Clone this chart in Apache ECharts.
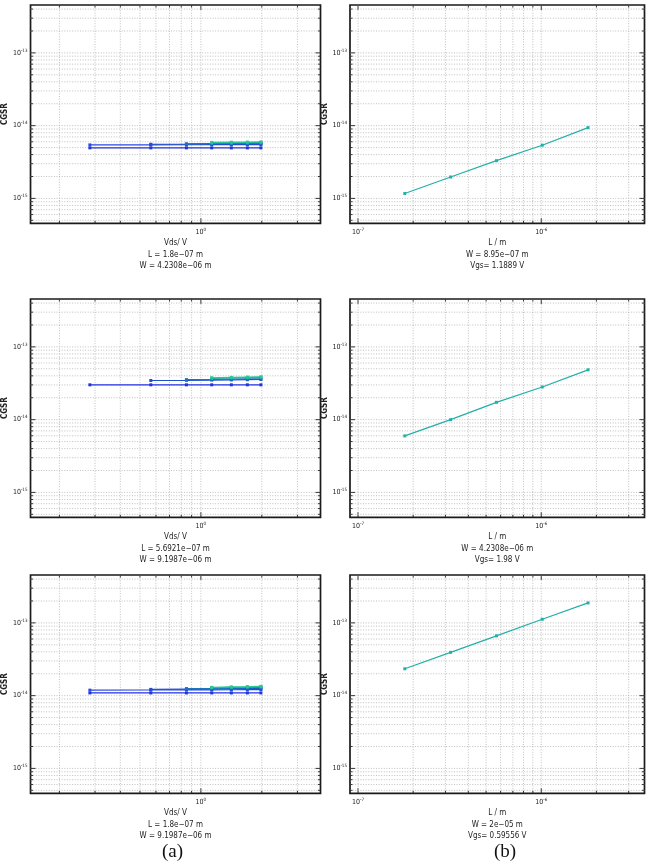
<!DOCTYPE html>
<html><head><meta charset="utf-8">
<script src="https://cdn.jsdelivr.net/npm/echarts@6/dist/echarts.min.js"></script>
<style>html,body{margin:0;padding:0;background:#fff}#c{width:648px;height:864px}</style>
</head><body><div id="c"></div>
<script>
// ---- data ----
const vds = [0.28286, 0.56571, 0.84857, 1.1314, 1.4143, 1.6971, 1.98];
const lengths = [1.8e-7, 3.2009e-7, 5.6921e-7, 1.0122e-6, 1.8e-6];

// panel (a) row 1 : CGSR vs Vds, several Vgs curves (null = no point)
const cgsrA1 = [
  [4.95e-15, 4.95e-15, 4.95e-15, 4.95e-15, 4.95e-15, 4.95e-15, 4.95e-15],
  [5.44e-15, 5.45e-15, 5.46e-15, 5.47e-15, 5.48e-15, 5.49e-15, 5.5e-15],
  [null, 5.55e-15, 5.57e-15, 5.6e-15, 5.62e-15, 5.63e-15, 5.65e-15],
  [null, null, 5.62e-15, 5.65e-15, 5.68e-15, 5.7e-15, 5.72e-15],
  [null, null, null, 5.76e-15, 5.8e-15, 5.83e-15, 5.86e-15],
  [null, null, null, 5.88e-15, 5.92e-15, 5.95e-15, 5.98e-15]
];
const cgsrA2 = [
  [3.01e-14, 3.01e-14, 3.01e-14, 3.01e-14, 3.01e-14, 3.01e-14, 3.01e-14],
  [null, 3.45e-14, 3.47e-14, 3.5e-14, 3.52e-14, 3.54e-14, 3.56e-14],
  [null, null, 3.55e-14, 3.58e-14, 3.61e-14, 3.63e-14, 3.65e-14],
  [null, null, null, 3.7e-14, 3.74e-14, 3.78e-14, 3.81e-14],
  [null, null, null, 3.76e-14, 3.81e-14, 3.85e-14, 3.88e-14]
];
const cgsrA3 = [
  [1.09e-14, 1.09e-14, 1.09e-14, 1.09e-14, 1.09e-14, 1.09e-14, 1.09e-14],
  [1.19e-14, 1.195e-14, 1.2e-14, 1.2e-14, 1.205e-14, 1.21e-14, 1.21e-14],
  [null, 1.22e-14, 1.23e-14, 1.24e-14, 1.245e-14, 1.25e-14, 1.26e-14],
  [null, null, 1.25e-14, 1.26e-14, 1.27e-14, 1.28e-14, 1.29e-14],
  [null, null, null, 1.28e-14, 1.3e-14, 1.31e-14, 1.32e-14],
  [null, null, null, 1.3e-14, 1.32e-14, 1.33e-14, 1.34e-14]
];
// panel (b): CGSR vs L
const cgsrB1 = [1.17e-15, 1.97e-15, 3.3e-15, 5.38e-15, 9.4e-15];
const cgsrB2 = [5.98e-15, 1.0e-14, 1.73e-14, 2.81e-14, 4.84e-14];
const cgsrB3 = [2.34e-14, 3.94e-14, 6.63e-14, 1.12e-13, 1.88e-13];

const captionsA = [
  ["Vds/ V", "L = 1.8e\u221207 m", "W = 4.2308e\u221206 m"],
  ["Vds/ V", "L = 5.6921e\u221207 m", "W = 9.1987e\u221206 m"],
  ["Vds/ V", "L = 1.8e\u221207 m", "W = 9.1987e\u221206 m"]
];
const captionsB = [
  ["L / m", "W = 8.95e\u221207 m", "Vgs= 1.1889 V"],
  ["L / m", "W = 4.2308e\u221206 m", "Vgs= 1.98 V"],
  ["L / m", "W = 2e\u221205 m", "Vgs= 0.59556 V"]
];
const yName = "CGSR";
const yRange = [4.55e-16, 4.55e-13];
const xRangeA = [0.144, 3.9];
const xRangeB = [9.04e-8, 3.66e-6];
const panelLabels = ["(a)", "(b)"];

// ---- styling ----
const FONT = "'Liberation Sans Narrow','DejaVu Sans Condensed','Liberation Sans',sans-serif";
const colorsA6 = ['#2233e0', '#2d48e0', '#1f4fcc', '#1a74bf', '#1aa7a6', '#2cc795'];
const colorsA5 = ['#2233e0', '#1f4fcc', '#1a74bf', '#1aa7a6', '#2cc795'];
const colorB = '#22b0a8';

function gridVals(lo, hi) {
  const out = [];
  for (let e = Math.floor(Math.log10(lo)) - 1; e <= Math.ceil(Math.log10(hi)); e++) {
    for (let k = 1; k <= 9; k++) {
      const v = k * Math.pow(10, e);
      if (v > lo * 1.0001 && v < hi * 0.9999) out.push(v);
    }
  }
  return out;
}
function isMajor(v) { const e = Math.log10(v); return Math.abs(e - Math.round(e)) < 1e-6; }
function powLabel(v) {
  const e = Math.log10(v); const r = Math.round(e);
  if (Math.abs(e - r) > 1e-6) return '';
  return '{b|10}{e|' + r + '}';
}
const richLab = {
  b: { fontSize: 7, lineHeight: 10, fontFamily: FONT, color: '#222' },
  e: { fontSize: 4.5, lineHeight: 5, verticalAlign: 'top', fontFamily: FONT, color: '#222' }
};

const PW = 294.5, PH = 218.3;
const layout = [
  { left: 26, top: 5 }, { left: 350, top: 5 },
  { left: 26, top: 299 }, { left: 350, top: 299 },
  { left: 26, top: 575 }, { left: 350, top: 575 }
];

const grid = [], xAxis = [], yAxis = [], series = [];

function gridSeries(idx, xr, yr) {
  const data = gridVals(xr[0], xr[1]).map(v => [v, yr[0], 0])
    .concat(gridVals(yr[0], yr[1]).map(v => [xr[0], v, 1]));
  return {
    type: 'custom', xAxisIndex: idx, yAxisIndex: idx, silent: true, z: 1,
    dimensions: ['x', 'y', 't'], encode: { x: 0, y: 1 }, data,
    renderItem(params, api) {
      const cs = params.coordSys;
      const t = api.value(2);
      const ch = [];
      const grey = { stroke: '#b0b0b0', lineWidth: 0.8, lineDash: [1, 1.6] };
      const tk = { stroke: '#222', lineWidth: 0.9 };
      if (t === 0) {
        const v = api.value(0); const tl = isMajor(v) ? 5 : 2.5;
        const x = api.coord([v, yr[0]])[0];
        ch.push({ type: 'line', shape: { x1: x, y1: cs.y, x2: x, y2: cs.y + cs.height }, style: grey });
        ch.push({ type: 'line', shape: { x1: x, y1: cs.y + cs.height, x2: x, y2: cs.y + cs.height - tl }, style: tk });
        ch.push({ type: 'line', shape: { x1: x, y1: cs.y, x2: x, y2: cs.y + tl }, style: tk });
      } else {
        const v = api.value(1); const tl = isMajor(v) ? 5 : 2.5;
        const y = api.coord([xr[0], v])[1];
        ch.push({ type: 'line', shape: { x1: cs.x, y1: y, x2: cs.x + cs.width, y2: y }, style: grey });
        ch.push({ type: 'line', shape: { x1: cs.x, y1: y, x2: cs.x + tl, y2: y }, style: tk });
        ch.push({ type: 'line', shape: { x1: cs.x + cs.width, y1: y, x2: cs.x + cs.width - tl, y2: y }, style: tk });
      }
      return { type: 'group', children: ch };
    }
  };
}

function addPanel(idx, xr, caption) {
  const L = layout[idx];
  grid.push({ left: L.left, top: L.top, width: PW, height: PH, show: true,
    borderColor: '#1a1a1a', borderWidth: 1.7, backgroundColor: 'transparent' });
  xAxis.push({ gridIndex: idx, type: 'log', logBase: 10, min: xr[0], max: xr[1],
    axisLine: { show: false }, axisTick: { show: false }, splitLine: { show: false },
    axisLabel: { formatter: powLabel, rich: richLab, margin: 4, showMinLabel: false, showMaxLabel: false },
    name: caption.join('\n'), nameLocation: 'middle', nameGap: 14,
    nameTextStyle: { fontSize: 8, lineHeight: 11.5, fontFamily: FONT, color: '#222' } });
  yAxis.push({ gridIndex: idx, type: 'log', logBase: 10, min: yRange[0], max: yRange[1],
    axisLine: { show: false }, axisTick: { show: false }, splitLine: { show: false },
    axisLabel: { formatter: powLabel, rich: richLab, margin: 3, showMinLabel: false, showMaxLabel: false },
    name: yName, nameLocation: 'middle', nameRotate: 90, nameGap: 19,
    nameTextStyle: { fontSize: 8, fontWeight: 'bold', fontFamily: FONT, color: '#222' } });
  series.push(gridSeries(idx, xr, yRange));
}

function lineSeries(idx, xs, ys, color) {
  const data = [];
  xs.forEach((x, i) => { if (ys[i] != null) data.push([x, ys[i]]); });
  series.push({ type: 'line', xAxisIndex: idx, yAxisIndex: idx, data, z: 3,
    symbol: 'rect', symbolSize: 3, showSymbol: true,
    lineStyle: { color, width: 1.2 }, itemStyle: { color }, animation: false, silent: true });
}

const rowsA = [cgsrA1, cgsrA2, cgsrA3];
const rowsB = [cgsrB1, cgsrB2, cgsrB3];
for (let r = 0; r < 3; r++) {
  const ia = r * 2, ib = r * 2 + 1;
  addPanel(ia, xRangeA, captionsA[r]);
  addPanel(ib, xRangeB, captionsB[r]);
  const cols = rowsA[r].length === 6 ? colorsA6 : colorsA5;
  rowsA[r].forEach((s, k) => lineSeries(ia, vds, s, cols[k]));
  lineSeries(ib, lengths, rowsB[r], colorB);
}

const chart = echarts.init(document.getElementById('c'), null, { renderer: 'canvas' });
chart.setOption({
  animation: false,
  backgroundColor: '#fff',
  title: [
    { text: panelLabels[0], left: 162, top: 843, padding: 0,
      textStyle: { fontFamily: "'Liberation Serif','DejaVu Serif',serif", fontSize: 19, fontWeight: 'normal', color: '#111' } },
    { text: panelLabels[1], left: 494, top: 843, padding: 0,
      textStyle: { fontFamily: "'Liberation Serif','DejaVu Serif',serif", fontSize: 19, fontWeight: 'normal', color: '#111' } }
  ],
  grid, xAxis, yAxis, series
});
</script></body></html>
